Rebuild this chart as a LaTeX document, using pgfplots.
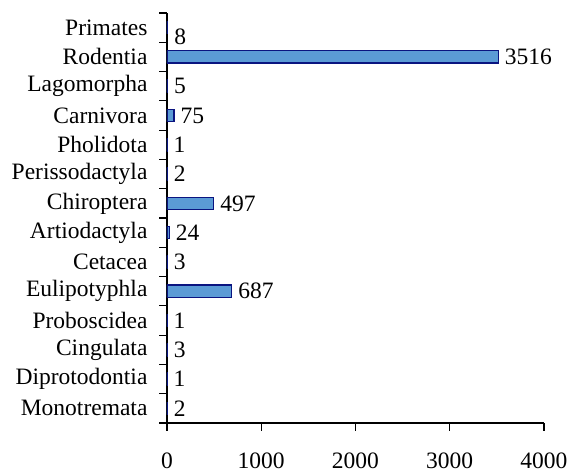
\documentclass[border=0pt]{standalone}
\usepackage{fontspec}
\setmainfont{Liberation Serif}
\usepackage{pgfplots}
\pgfplotsset{compat=1.18}
\definecolor{barfill}{RGB}{91,155,213}
\definecolor{baredge}{RGB}{10,20,128}
\begin{document}
\begin{tikzpicture}
\useasboundingbox (0,0) rectangle (287pt,236.5pt);
\begin{axis}[
  at={(83.5pt,25pt)}, anchor=south west,
  scale only axis, width=188.5pt, height=205pt,
  xbar, bar width=0.42,
  xmin=0, xmax=4000, ymin=-0.5, ymax=13.5,
  axis x line*=bottom, axis y line*=left,
  axis line style={line width=0.6pt, -},
  tick align=outside,
  major tick length=3.75pt, minor tick length=3.75pt,
  xtick={0,1000,2000,3000,4000},
  ytick={0,...,13},
  yticklabels={Monotremata,Diprotodontia,Cingulata,Proboscidea,Eulipotyphla,Cetacea,Artiodactyla,Chiroptera,Perissodactyla,Pholidota,Carnivora,Lagomorpha,Rodentia,Primates},
  minor ytick={-0.5,0.5,...,13.5},
  major y tick style={draw=none},
  every tick/.append style={line width=0.6pt, black},
  scaled x ticks=false,
  /pgf/number format/assume math mode=true,
  /pgf/number format/1000 sep={},
  tick label style={font=\fontsize{11.75}{14}\selectfont},
  y tick label style={xshift=-2.5pt},
  x tick label style={yshift=-7.5pt},
  visualization depends on={rawy \as \ry},
  nodes near coords,
  nodes near coords style={font=\fontsize{11.75}{14}\selectfont, anchor=west, inner sep=0pt, xshift=3pt, yshift={-4.5*(\ry>12.5)}},
  point meta=x,
  every node near coord/.append style={/pgf/number format/fixed, /pgf/number format/1000 sep={}},
]
\addplot[fill=barfill, draw=baredge, line width=0.6pt] coordinates {
(2,0) (1,1) (3,2) (1,3) (687,4) (3,5) (24,6) (497,7) (2,8) (1,9) (75,10) (5,11) (3516,12) (8,13)
};
\end{axis}
\end{tikzpicture}
\end{document}
